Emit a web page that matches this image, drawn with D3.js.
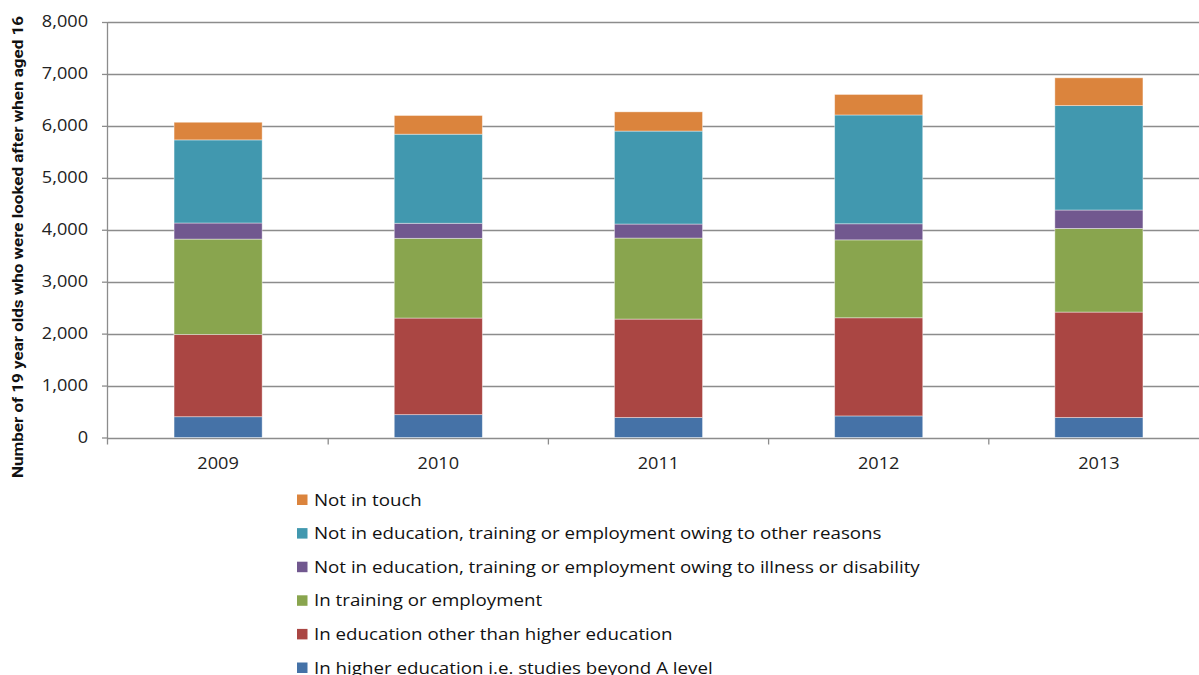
<!DOCTYPE html>
<html>
<head>
<meta charset="utf-8">
<script src="https://cdn.jsdelivr.net/npm/d3@7"></script>
<style>
html,body{margin:0;padding:0;background:#fff;}
svg{display:block;font-family:"Open Sans",sans-serif;}
</style>
</head>
<body>
<svg id="chart" width="1199" height="675"></svg>
<script>
const years = ["2009","2010","2011","2012","2013"];
const seriesNames = [
  "In higher education i.e. studies beyond A level",
  "In education other than higher education",
  "In training or employment",
  "Not in education, training or employment owing to illness or disability",
  "Not in education, training or employment owing to other reasons",
  "Not in touch"
];
const higherEd    = [400, 440, 385, 415, 385];
const otherEd     = [1585, 1860, 1895, 1890, 2030];
const training    = [1835, 1535, 1560, 1500, 1610];
const illness     = [310, 290, 270, 310, 355];
const otherNeet   = [1600, 1715, 1790, 2095, 2010];
const notInTouch  = [340, 360, 370, 395, 535];
const colors = ["#4572a7","#aa4643","#89a54e","#71588f","#4198af","#db843d"];
const yTicks = [0,1000,2000,3000,4000,5000,6000,7000,8000];
const yTitle = "Number of 19 year olds who were looked after when aged 16";

const seriesValues = [higherEd, otherEd, training, illness, otherNeet, notInTouch];
const keys = seriesNames;
const rows = years.map((yr,i)=>{
  const r = {year:yr};
  keys.forEach((k,j)=> r[k] = seriesValues[j][i]);
  return r;
});
const stacked = d3.stack().keys(keys)(rows);

const svg = d3.select("#chart");
const mLeft = 108, mRight = 1209, mTop = 22, mBottom = 437.5;
const stretch = 1.17;

const x = d3.scaleBand().domain(years).range([mLeft, mRight]).paddingInner(0.6).paddingOuter(0.3);
const y = d3.scaleLinear().domain([0,8000]).range([mBottom, mTop]);

function widen(sel){
  sel.each(function(){
    const w = this.getComputedTextLength();
    d3.select(this).attr("textLength", w*stretch).attr("lengthAdjust","spacingAndGlyphs");
  });
}

// gridlines
svg.append("g").selectAll("line").data(yTicks).join("line")
  .attr("x1", mLeft).attr("x2", 1199)
  .attr("y1", d=>Math.round(y(d))+0.5).attr("y2", d=>Math.round(y(d))+0.5)
  .attr("stroke", "#8c8c8c").attr("stroke-width", 1.3);

// y axis
const yAxis = svg.append("g").attr("transform", `translate(${mLeft},0)`)
  .call(d3.axisLeft(y).tickValues(yTicks).tickFormat(d3.format(",")).tickSize(6).tickPadding(14));
yAxis.select(".domain").attr("stroke","#8c8c8c").attr("stroke-width",1.3)
  .attr("d", `M-0.5,${mTop}V${mBottom+7}`);
yAxis.selectAll(".tick line").attr("stroke","#8c8c8c").attr("stroke-width",1.3);
yAxis.selectAll(".tick text").attr("font-size", 15.5).attr("fill","#222").attr("font-family","Open Sans, sans-serif").call(widen);

// x axis
const xAxis = svg.append("g").attr("transform", `translate(0,${Math.round(mBottom)+0.5})`);
const step = x.step();
const boundaries = d3.range(years.length+1).map(i=> mLeft + i*step);
xAxis.selectAll("line.sep").data(boundaries.slice(1)).join("line")
  .attr("x1", d=>d).attr("x2", d=>d).attr("y1",0).attr("y2",6)
  .attr("stroke","#8c8c8c").attr("stroke-width",1.3);
xAxis.selectAll("text").data(years).join("text")
  .attr("x", d=> x(d)+x.bandwidth()/2).attr("y", 30)
  .attr("text-anchor","middle").attr("font-size",15.5).attr("fill","#222")
  .text(d=>d).call(widen);

// bars
svg.append("g").selectAll("g").data(stacked).join("g")
  .attr("fill", (d,i)=>colors[i])
  .selectAll("rect").data(d=>d).join("rect")
  .attr("x", d=>x(d.data.year)).attr("width", x.bandwidth())
  .attr("y", d=>y(d[1])).attr("height", d=>y(d[0])-y(d[1]))
  .attr("stroke","rgba(255,255,255,0.5)").attr("stroke-width",0.8);

// y title
svg.append("text")
  .attr("transform","translate(23,247) rotate(-90)")
  .attr("text-anchor","middle")
  .attr("font-size",15).attr("font-weight","bold").attr("fill","#111")
  .attr("font-family","Liberation Sans Narrow, Roboto, sans-serif")
  .attr("textLength", 462).attr("lengthAdjust","spacingAndGlyphs")
  .text(yTitle);

// legend (reverse order)
const legendOrder = keys.map((k,i)=>i).reverse();
const lg = svg.append("g");
legendOrder.forEach((si,row)=>{
  const cy = 499.5 + row*33.6;
  lg.append("rect").attr("x",297).attr("y",cy-5).attr("width",10.5).attr("height",10.5).attr("fill",colors[si]);
  lg.append("text").attr("x",314).attr("y",cy+6).attr("font-size",16).attr("fill","#111")
    .text(keys[si]).call(widen);
});
</script>
</body>
</html>
